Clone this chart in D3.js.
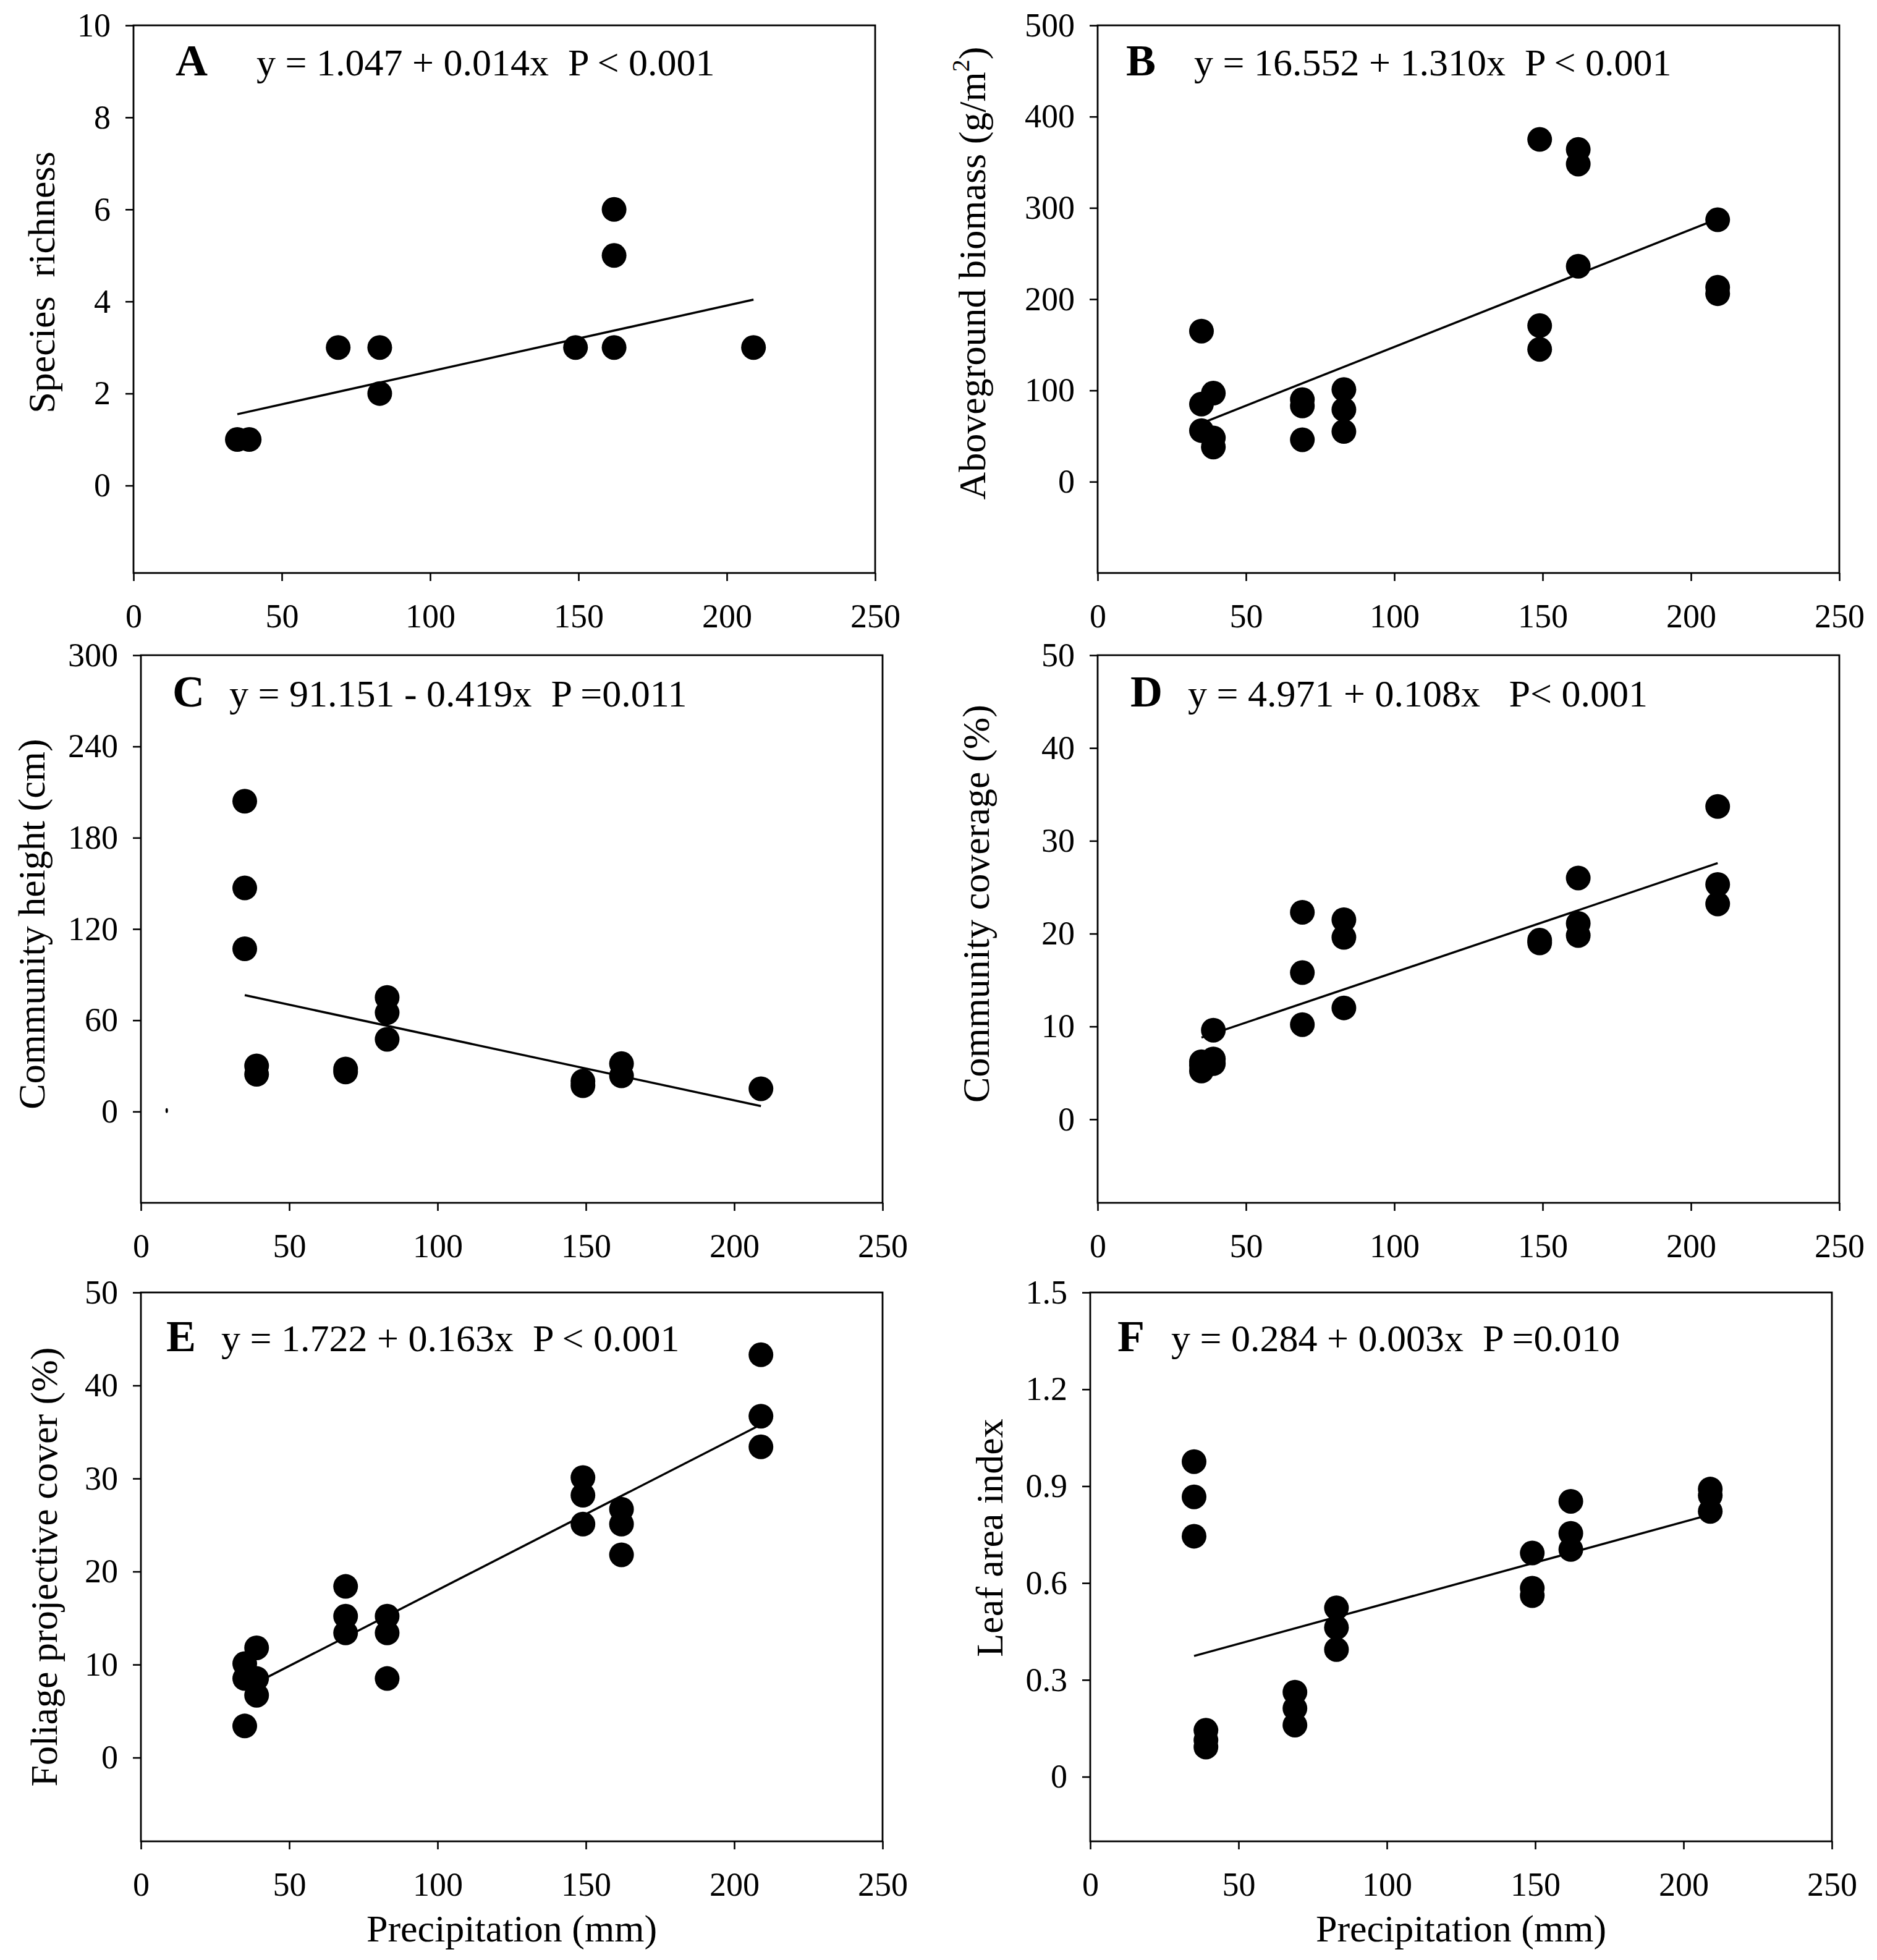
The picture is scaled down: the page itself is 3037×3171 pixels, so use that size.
<!DOCTYPE html>
<html>
<head>
<meta charset="utf-8">
<script src="https://cdn.jsdelivr.net/npm/d3@7"></script>
<style>
  body { margin: 0; background: #fff; }
  text { font-family: "Liberation Serif", "Times New Roman", serif; }
</style>
</head>
<body>
<script>
// precipitation of the seven sites (mm)
var sites = [35, 39, 69, 83, 149, 162, 209];

// values per site
var richness = [[1], [1], [3], [3, 2], [3], [6, 5, 3], [3]];
var biomass  = [[165, 85, 56], [97, 48, 38], [90, 83, 46], [101, 79, 55],
                [375, 171, 145], [364, 348, 236], [287, 213, 206]];
var height   = [[204, 147, 107], [30, 24.5], [28, 26], [75, 65, 47.5],
                [20, 17], [31.5, 23.5], [15]];
var coverage = [[6.2, 5.8, 5.2], [9.6, 6.5, 6.0], [22.3, 15.8, 10.2], [21.5, 19.6, 12.0],
                [19.3, 19.0], [26.0, 21.1, 19.8], [33.7, 25.3, 23.2]];
var foliage  = [[10.1, 8.5, 3.4], [11.8, 8.5, 6.7], [18.4, 15.2, 13.4], [15.2, 13.4, 8.5],
                [30.1, 28.2, 25.1], [26.7, 25.1, 21.8], [43.3, 36.7, 33.4]];
var lai      = [[0.976, 0.867, 0.745], [0.144, 0.113, 0.092], [0.262, 0.212, 0.160],
                [0.523, 0.462, 0.394], [0.693, 0.584, 0.561], [0.853, 0.754, 0.704],
                [0.891, 0.871, 0.822]];

// fitted lines: [x0, y0, x1, y1]
var fitA = [35, 1.55, 209, 4.04];
var fitB = [35, 64, 209, 288];
var fitC = [35, 76.5, 209, 3.6];
var fitD = [35, 8.8, 209, 27.6];
var fitE = [35, 7.4, 209, 35.8];
var fitF = [35, 0.374, 209, 0.812];

// small stray mark in panel C
var strayC = [[8.7, 0.6]];

// tick labels
var xTicks  = [0, 50, 100, 150, 200, 250];
var yTicksA = [0, 2, 4, 6, 8, 10];
var yTicksB = [0, 100, 200, 300, 400, 500];
var yTicksC = [0, 60, 120, 180, 240, 300];
var yTicksD = [0, 10, 20, 30, 40, 50];
var yTicksE = [0, 10, 20, 30, 40, 50];
var yTicksF = [0, 0.3, 0.6, 0.9, 1.2, 1.5];

var letters   = ["A", "B", "C", "D", "E", "F"];
var equations = ["y = 1.047 + 0.014x  P < 0.001",
                 "y = 16.552 + 1.310x  P < 0.001",
                 "y = 91.151 - 0.419x  P =0.011",
                 "y = 4.971 + 0.108x   P< 0.001",
                 "y = 1.722 + 0.163x  P < 0.001",
                 "y = 0.284 + 0.003x  P =0.010"];
var yTitles = ["Species  richness", "Aboveground biomass (g/m", "Community height (cm)",
               "Community coverage (%)", "Foliage projective cover (%)", "Leaf area index"];
var xTitle = "Precipitation (mm)";

var width = 3037, height_ = 3171;

var svg = d3.select("body").append("svg")
            .attr("width", width)
            .attr("height", height_);
svg.append("rect").attr("width", width).attr("height", height_).attr("fill", "#fff");

// layout of each panel (box in pixels) + its data
var panels = [
  { left: 216,  right: 1416, top: 41,   bottom: 927,  yDom: [-1.9, 10],  ticks: yTicksA, vals: richness, fit: fitA,
    letterDx: 68, eqDx: 199, eqDy: 81, titleX: 88,   titleDy: -27 },
  { left: 1776, right: 2976, top: 41,   bottom: 927,  yDom: [-100, 500], ticks: yTicksB, vals: biomass,  fit: fitB,
    letterDx: 46, eqDx: 156, eqDy: 81, titleX: 1594, titleDy: -42, sup: true },
  { left: 228,  right: 1428, top: 1060, bottom: 1946, yDom: [-60, 300],  ticks: yTicksC, vals: height,   fit: fitC,
    letterDx: 51, eqDx: 143, eqDy: 83, titleX: 72,   titleDy: -8, stray: strayC },
  { left: 1776, right: 2976, top: 1060, bottom: 1946, yDom: [-9, 50],    ticks: yTicksD, vals: coverage, fit: fitD,
    letterDx: 53, eqDx: 146, eqDy: 83, titleX: 1600, titleDy: -41 },
  { left: 228,  right: 1428, top: 2091, bottom: 2979, yDom: [-9, 50],    ticks: yTicksE, vals: foliage,  fit: fitE,
    letterDx: 41, eqDx: 130, eqDy: 95, titleX: 92,   titleDy: 0, xTitle: true },
  { left: 1764, right: 2964, top: 2091, bottom: 2979, yDom: [-0.2, 1.5], ticks: yTicksF, vals: lai,      fit: fitF,
    letterDx: 44, eqDx: 131, eqDy: 95, titleX: 1622, titleDy: -47, xTitle: true, dec: true }
];

panels.forEach(function(p, i) {
    var x = d3.scaleLinear().domain([0, 250]).range([p.left, p.right]);
    var y = d3.scaleLinear().domain(p.yDom).range([p.bottom, p.top]);
    var g = svg.append("g");

    // flatten site values into points
    var pts = [];
    p.vals.forEach(function(vs, k) {
        vs.forEach(function(v) { pts.push({ x: sites[k], y: v }); });
    });

    // y axis
    var yAxis = d3.axisLeft(y)
                  .tickValues(p.ticks)
                  .tickSize(13)
                  .tickSizeOuter(0)
                  .tickPadding(24)
                  .tickFormat(function(d) { return p.dec ? (d === 0 ? "0" : d.toFixed(1)) : d; });
    var ya = g.append("g")
              .attr("transform", "translate(" + p.left + ",0)")
              .call(yAxis);
    // x axis
    var xAxis = d3.axisBottom(x)
                  .tickValues(xTicks)
                  .tickSize(13)
                  .tickSizeOuter(0)
                  .tickPadding(37);
    var xa = g.append("g")
              .attr("transform", "translate(0," + p.bottom + ")")
              .call(xAxis);
    [ya, xa].forEach(function(a) {
        a.select(".domain").remove();
        a.selectAll("line").attr("stroke", "#000").attr("stroke-width", 2.6);
        a.selectAll("text")
         .attr("fill", "#000")
         .attr("font-size", 54)
         .style("font-family", "'Liberation Serif', serif");
    });

    // frame
    g.append("rect")
     .attr("x", p.left).attr("y", p.top)
     .attr("width", p.right - p.left).attr("height", p.bottom - p.top)
     .attr("fill", "none").attr("stroke", "#000").attr("stroke-width", 2.8);

    // fitted line
    g.append("line")
     .attr("x1", x(p.fit[0])).attr("y1", y(p.fit[1]))
     .attr("x2", x(p.fit[2])).attr("y2", y(p.fit[3]))
     .attr("stroke", "#000").attr("stroke-width", 3.5);

    // points
    g.selectAll("circle.pt")
     .data(pts)
     .enter()
       .append("circle")
       .classed("pt", true)
       .attr("cx", function(d) { return x(d.x); })
       .attr("cy", function(d) { return y(d.y); })
       .attr("r", 20)
       .attr("fill", "#000");

    if (p.stray) {
        g.selectAll("ellipse.stray")
         .data(p.stray)
         .enter()
           .append("ellipse")
           .attr("cx", function(d) { return x(d[0]); })
           .attr("cy", function(d) { return y(d[1]); })
           .attr("rx", 2).attr("ry", 4)
           .attr("fill", "#000");
    }

    // panel letter + equation
    g.append("text")
     .attr("x", p.left + p.letterDx).attr("y", p.top + p.eqDy)
     .attr("font-size", 72).attr("font-weight", "bold")
     .text(letters[i]);
    g.append("text")
     .attr("x", p.left + p.eqDx).attr("y", p.top + p.eqDy)
     .attr("font-size", 62)
     .style("white-space", "pre")
     .attr("xml:space", "preserve")
     .text(equations[i]);

    // y title
    var cy = (p.top + p.bottom) / 2 + p.titleDy;
    var t = g.append("text")
             .attr("transform", "translate(" + p.titleX + "," + cy + ") rotate(-90)")
             .attr("text-anchor", "middle")
             .attr("font-size", 62)
             .style("white-space", "pre")
             .attr("xml:space", "preserve");
    t.append("tspan").text(yTitles[i]);
    if (p.sup) {
        t.append("tspan").attr("font-size", 40).attr("dy", -26).text("2");
        t.append("tspan").attr("dy", 26).text(")");
    }

    if (p.xTitle) {
        g.append("text")
         .attr("x", (p.left + p.right) / 2)
         .attr("y", 3141)
         .attr("text-anchor", "middle")
         .attr("font-size", 62)
         .text(xTitle);
    }
});
</script>
</body>
</html>
